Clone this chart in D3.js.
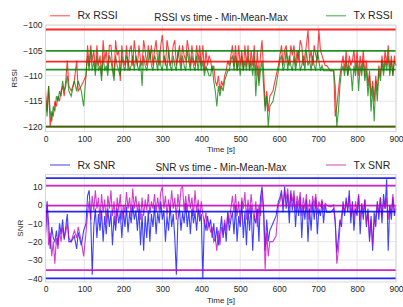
<!DOCTYPE html>
<html>
<head>
<meta charset="utf-8">
<script src="https://cdn.jsdelivr.net/npm/d3@7"></script>
<style>
  html, body { margin: 0; padding: 0; background: #fff; }
  text { font-family: "Liberation Sans", Arial, sans-serif; fill: #262626; }
</style>
</head>
<body>
<div id="main"></div>
<script>
// sample times [s], shared by all four series
const times = [
  0,4,8,12,16,20,24,28,32,36,
  40,44,48,52,56,60,
  66,74,80,84,92,98,104,
  108,112,116,120,124,128,132,136,140,144,
  148,152,156,160,164,168,172,176,180,184,
  188,192,196,200,204,208,212,216,220,224,
  228,232,236,240,244,248,252,256,260,264,
  268,272,276,280,284,288,292,296,300,304,
  308,312,316,320,324,328,332,336,340,344,
  348,352,356,360,364,368,372,376,380,384,
  388,392,396,400,404,408,412,416,420,424,
  428,432,436,440,444,448,452,456,460,464,
  468,472,476,480,484,488,492,496,500,504,
  508,512,516,520,524,528,532,536,540,544,
  548,552,556,560,564,568,572,576,
  584,592,598,
  602,606,610,614,618,622,626,630,634,638,
  642,646,650,654,658,662,666,670,674,678,
  682,686,690,694,698,702,706,710,714,718,
  722,
  732,740,744,748,
  752,756,760,764,768,772,776,780,784,788,
  792,796,800,804,808,812,816,820,824,828,
  832,836,840,844,848,852,856,860,864,868,
  872,876,880,884,888,892,896,900
];

const rxRssi = [
  -113,-117,-112,-120,-117,-118,-115,-116,-114,-115,
  -113,-112,-114,-111,-107,-112,
  -113,-111,-107,-113,-112,-111,-110,
  -104,-108,-104,-107,-105,-109,-104,-108,-106,-110,
  -103,-107,-105,-109,-104,-104,-108,-110,-103,-106,
  -105,-111,-104,-107,-108,-104,-109,-105,-104,-108,
  -103,-106,-108,-104,-107,-108,-103,-105,-108,-104,
  -107,-104,-108,-105,-103,-107,-108,-104,-102,-106,
  -108,-103,-105,-108,-107,-104,-103,-108,-106,-104,
  -108,-104,-106,-107,-103,-105,-108,-104,-107,-108,
  -104,-107,-104,-108,-104,-109,-105,-108,-106,-107,
  -109,-108,-111,-112,-110,-113,-111,-112,-110,-109,
  -107,-108,-106,-104,-108,-104,-109,-104,-108,-105,
  -109,-104,-108,-104,-109,-105,-108,-104,-110,-105,
  -111,-106,-103,-109,-116,-113,-117,-114,
  -113,-110,-108,
  -106,-104,-108,-105,-104,-107,-108,-104,-106,-104,
  -108,-105,-107,-103,-104,-108,-106,-104,-101,-107,
  -105,-108,-104,-106,-107,-101,-105,-106,-107,-108,
  -108,
  -109,-109,-118,-116,
  -113,-110,-108,-106,-109,-105,-110,-106,-108,-107,
  -105,-109,-105,-110,-106,-109,-105,-110,-107,-112,
  -109,-114,-111,-115,-110,-113,-108,-110,-106,-109,
  -105,-108,-104,-109,-106,-110,-106,-108
];

const txRssi = [
  -114,-118,-112,-117,-119,-116,-117,-114,-115,-113,
  -114,-111,-113,-112,-110,-113,
  -114,-111,-113,-111,-113,-116,-110,
  -106,-109,-105,-109,-107,-110,-106,-109,-108,-111,
  -106,-109,-108,-110,-106,-107,-109,-111,-106,-108,
  -109,-110,-106,-108,-109,-106,-107,-109,-108,-106,
  -109,-106,-108,-109,-107,-112,-106,-108,-109,-107,
  -105,-108,-109,-106,-107,-109,-105,-108,-109,-106,
  -107,-109,-105,-108,-109,-106,-108,-109,-105,-107,
  -109,-106,-108,-109,-105,-107,-109,-106,-108,-109,
  -106,-109,-106,-109,-107,-110,-108,-109,-110,-110,
  -108,-111,-113,-116,-112,-114,-112,-113,-111,-110,
  -109,-109,-107,-106,-109,-106,-109,-107,-110,-106,
  -109,-107,-109,-106,-109,-107,-110,-106,-114,-108,
  -112,-109,-107,-112,-117,-114,-120,-116,
  -115,-112,-109,
  -107,-106,-109,-108,-105,-109,-106,-108,-109,-106,
  -109,-107,-105,-109,-108,-106,-109,-105,-108,-107,
  -109,-106,-108,-109,-105,-107,-109,-108,-109,-109,
  -109,
  -109,-109,-112,-120,
  -117,-112,-109,-108,-110,-107,-110,-108,-109,-113,
  -108,-110,-107,-113,-108,-110,-107,-111,-109,-114,
  -110,-117,-112,-119,-111,-115,-109,-111,-107,-110,
  -107,-109,-106,-110,-107,-110,-107,-108
];

const rxSnr = [
  -15,2,-10,-24,-12,-18,-20,-14,-22,-10,
  -16,-8,-19,-12,-5,-20,
  -20,-17,-24,-15,-22,-14,-10,
  5,8,-6,-38,-12,-2,-18,-5,-14,-3,
  -20,-6,-16,-2,-12,-4,-22,-6,-14,-2,
  -10,-4,-18,-3,-12,-1,-15,-4,-10,0,
  -8,-3,-14,-2,-22,-5,-25,-6,-18,-3,
  -20,-5,-12,0,-16,-4,-10,2,-8,-3,
  -20,-6,-14,0,-12,-5,-18,-38,-8,-2,
  -14,-4,-10,1,-12,-3,-16,-2,-10,-4,
  -14,-2,-9,-5,-40,-8,-14,-6,-12,-8,
  -18,-10,-20,-12,-22,-15,-6,-18,-10,-20,
  -4,-14,-8,-4,-16,0,-20,-6,-12,2,
  -18,-4,-22,-2,-14,0,-25,-6,-10,-2,
  -20,4,10,-2,-25,-8,-20,-14,
  -10,-6,2,
  4,8,-4,10,-2,6,-10,8,-3,5,
  -12,2,-6,4,-18,0,-8,3,-20,-2,
  -14,2,-8,4,-16,-2,-6,2,-10,0,
  -4,
  -4,-2,-10,-26,
  -18,-8,-12,2,-6,4,-4,8,-10,2,
  -14,-2,-6,5,-16,0,-8,3,-12,-2,
  -20,-6,-25,-4,-12,2,-8,4,-10,6,
  -2,14,-25,0,-8,4,-6,-2
];

const txSnr = [
  -18,0,-22,-15,-28,-20,-32,-18,-24,-14,
  -20,-12,-18,-15,-10,-18,
  -20,-14,-18,-12,-20,-28,-15,
  -5,2,-8,5,-3,8,-2,4,-8,6,
  -4,3,-10,5,-2,8,-6,2,-12,4,
  -3,6,-8,0,-4,7,-2,4,-6,9,
  -2,5,-4,2,-8,4,-6,3,-3,6,
  -5,2,-2,6,-4,4,-3,7,10,-2,
  5,-6,3,-3,8,-2,4,-8,6,-2,
  9,10,-3,5,-4,6,-2,4,-6,8,
  -4,3,-8,2,-5,-10,-4,-14,-10,-15,
  -12,-20,-18,-25,-14,-22,-12,-16,-8,-14,
  -4,-10,-2,5,-4,6,-6,2,-10,4,
  -2,7,-8,3,-5,6,-3,-8,2,-12,
  0,-6,8,-5,-35,-15,-28,-20,
  -20,-17,0,
  2,6,0,8,3,9,-2,6,2,8,
  -4,5,0,7,-6,4,-2,6,-8,3,
  -4,5,0,6,-5,2,-1,3,-3,1,
  0,
  -1,0,-8,-32,
  -25,-12,-6,0,-4,2,-2,5,-6,0,
  -8,2,-4,6,-8,1,-4,3,-10,-4,
  -18,-8,-22,-10,-6,0,-4,4,-6,2,
  -2,4,-8,0,-5,6,-4,0
];

// min, mean, max
const rxRssiStats = [-120, -107.2, -100.9];
const txRssiStats = [-120, -108.8, -105.1];
const rxSnrStats = [-40, -3.6, 14.6];
const txSnrStats = [-35.5, -0.4, 10.5];

const xTicks = [0, 100, 200, 300, 400, 500, 600, 700, 800, 900];
const rssiTicks = [-120, -115, -110, -105, -100];
const snrTicks = [-40, -30, -20, -10, 0, 10];

const width = 403, height = 307;
const svg = d3.select("#main").append("svg")
  .attr("width", width).attr("height", height);

function panel(opt) {
  const x = d3.scaleLinear().domain([0, 900]).range([45.5, 396]);
  const y = d3.scaleLinear().domain(opt.yDomain).range([opt.bottom, opt.top]);
  const g = svg.append("g");

  // grid
  g.append("g").selectAll("line").data(xTicks).join("line")
    .attr("x1", d => x(d)).attr("x2", d => x(d))
    .attr("y1", opt.top).attr("y2", opt.bottom)
    .attr("stroke", "#e3e3e3").attr("stroke-width", 0.9);
  g.append("g").selectAll("line").data(opt.yTicks).join("line")
    .attr("y1", d => y(d)).attr("y2", d => y(d))
    .attr("x1", x.range()[0]).attr("x2", x.range()[1])
    .attr("stroke", "#e3e3e3").attr("stroke-width", 0.9);

  const line = d3.line().x((d, i) => x(times[i])).y(d => y(d));

  opt.series.forEach(s => {
    g.append("path").datum(s.values)
      .attr("fill", "none").attr("stroke", s.color)
      .attr("stroke-width", 1.1).attr("stroke-opacity", 0.75)
      .attr("d", line);
  });
  opt.series.forEach(s => {
    g.append("g").selectAll("line").data(s.stats).join("line")
      .attr("x1", x(0)).attr("x2", x(900))
      .attr("y1", d => y(d)).attr("y2", d => y(d))
      .attr("stroke", s.color).attr("stroke-width", 1.8)
      .attr("stroke-opacity", 0.85);
  });

  // frame
  g.append("rect")
    .attr("x", x.range()[0]).attr("y", opt.top)
    .attr("width", x.range()[1] - x.range()[0]).attr("height", opt.bottom - opt.top)
    .attr("fill", "none").attr("stroke", "#d6d6d6").attr("stroke-width", 0.9);

  // axes
  const yAxis = g.append("g")
    .attr("transform", `translate(${x.range()[0]},0)`)
    .call(d3.axisLeft(y).tickValues(opt.yTicks).tickSize(0).tickPadding(3));
  yAxis.select(".domain").remove();
  yAxis.selectAll("text").attr("font-size", "8.5px").attr("font-family", null);

  const xAxis = g.append("g")
    .attr("transform", `translate(0,${opt.bottom})`)
    .call(d3.axisBottom(x).tickValues(xTicks).tickSize(0).tickPadding(4));
  xAxis.select(".domain").remove();
  xAxis.selectAll("text").attr("font-size", "8.5px").attr("font-family", null);

  g.append("text").attr("x", 221).attr("y", opt.bottom + 20.5)
    .attr("text-anchor", "middle").attr("font-size", "8px").text("Time [s]");
  g.append("text")
    .attr("transform", `translate(${opt.ylabelX},${(opt.top + opt.bottom) / 2}) rotate(-90)`)
    .attr("text-anchor", "middle").attr("font-size", "8px").text(opt.ylabel);

  // title
  g.append("text").attr("x", 221).attr("y", opt.top - 4)
    .attr("text-anchor", "middle").attr("font-size", "10px").text(opt.title);

  // legends
  const ly = opt.top - 9.5;
  [[50, opt.series[0]], [326, opt.series[1]]].forEach(([lx, s]) => {
    g.append("line").attr("x1", lx).attr("x2", lx + 20)
      .attr("y1", ly).attr("y2", ly)
      .attr("stroke", s.color).attr("stroke-width", 1.5).attr("stroke-opacity", 0.5);
    g.append("text").attr("x", lx + 27.5).attr("y", ly + 3.7)
      .attr("font-size", "10.5px").text(s.name);
  });
}

panel({
  top: 25.2, bottom: 131.5, yDomain: [-120.95, -100.05], yTicks: rssiTicks,
  title: "RSSI vs time - Min-Mean-Max", ylabel: "RSSI", ylabelX: 17,
  series: [
    { name: "Rx RSSI", values: rxRssi, stats: rxRssiStats, color: "#ff0000" },
    { name: "Tx RSSI", values: txRssi, stats: txRssiStats, color: "#008000" }
  ]
});

panel({
  top: 174.5, bottom: 282, yDomain: [-42, 16.6], yTicks: snrTicks,
  title: "SNR vs time - Min-Mean-Max", ylabel: "SNR", ylabelX: 23,
  series: [
    { name: "Rx SNR", values: rxSnr, stats: rxSnrStats, color: "#0000ff" },
    { name: "Tx SNR", values: txSnr, stats: txSnrStats, color: "#bf00bf" }
  ]
});
</script>
</body>
</html>
